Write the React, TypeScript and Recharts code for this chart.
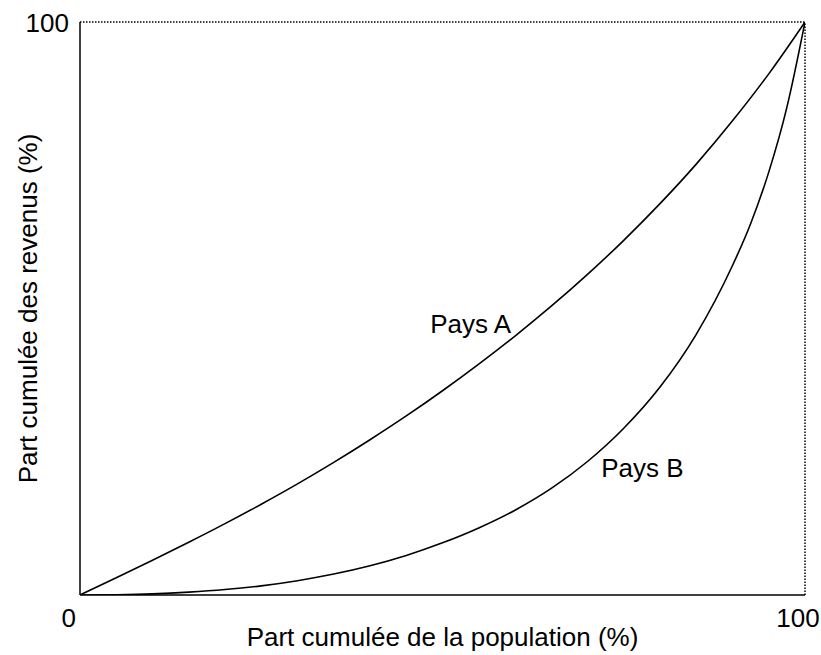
import { LineChart, Line, XAxis, YAxis, ReferenceLine, ReferenceDot, Label } from "recharts";

// Cumulative population share (%) -> cumulative income share (%)
const populationA = [0, 5, 10, 15, 20, 25, 30, 35, 40, 45, 50, 55, 60, 65, 70, 75, 80, 85, 90, 95, 100];
const incomeA = [0, 3, 6.05, 9.2, 12.45, 15.85, 19.4, 23.15, 27.1, 31.25, 35.65, 40.3, 45.2, 50.4, 55.95, 61.9, 68.3, 75.2, 82.75, 90.95, 100];

const populationB = [0, 5, 10, 15, 20, 25, 30, 35, 40, 45, 50, 55, 60, 65, 70, 75, 80, 85, 90, 92.5, 95, 97.5, 100];
const incomeB = [0, 0.05, 0.2, 0.5, 0.95, 1.6, 2.5, 3.65, 5.1, 6.9, 9.1, 11.7, 14.8, 18.6, 23.3, 29.1, 36.3, 45.5, 57.5, 64.8, 73.8, 85.1, 100];

const xTicks = [0, 100];
const yTicks = [100];

const seriesA = populationA.map((p, i) => ({ p, q: incomeA[i] }));
const seriesB = populationB.map((p, i) => ({ p, q: incomeB[i] }));

if (typeof document !== "undefined") {
  document.body.style.margin = "0";
}

const FONT = "'Liberation Sans', Arial, Helvetica, sans-serif";
const FS = 26;

const XTick = ({ x, y, payload }: any) => {
  const isZero = payload.value === 0;
  return (
    <text
      x={isZero ? x - 4 : x - 7}
      y={y + 24}
      textAnchor={isZero ? "end" : "middle"}
      fontFamily={FONT}
      fontSize={FS}
      fill="#000"
    >
      {payload.value}
    </text>
  );
};

const YTick = ({ x, y, payload }: any) => (
  <text x={x - 3} y={y + 10} textAnchor="end" fontFamily={FONT} fontSize={FS} fill="#000">
    {payload.value}
  </text>
);

const curveLabel = (text: string) => (props: any) => (
  <text x={props.cx} y={props.cy} fontFamily={FONT} fontSize={FS} fill="#000">
    {text}
  </text>
);

export default function App() {
  return (
    <div style={{ width: 821, height: 655, background: "#fff" }}>
      <LineChart width={821} height={655} margin={{ top: 22, right: 16, bottom: 30, left: 20 }}>
        <XAxis
          type="number"
          dataKey="p"
          domain={[0, 100]}
          ticks={xTicks}
          tickLine={false}
          axisLine={{ stroke: "#000", strokeWidth: 1.5 }}
          tick={<XTick />}
          height={30}
          allowDataOverflow
        >
          <Label
            content={({ viewBox }: any) => (
              <text
                x={viewBox.x + viewBox.width / 2}
                y={viewBox.y + 51}
                textAnchor="middle"
                fontFamily={FONT}
                fontSize={FS}
                fill="#000"
              >
                Part cumulée de la population (%)
              </text>
            )}
          />
        </XAxis>
        <YAxis
          type="number"
          domain={[0, 100]}
          ticks={yTicks}
          tickLine={false}
          axisLine={{ stroke: "#000", strokeWidth: 1.5 }}
          tick={<YTick />}
          width={60}
          allowDataOverflow
        >
          <Label
            content={({ viewBox }: any) => {
              const cx = 37;
              const cy = viewBox.y + viewBox.height / 2;
              return (
                <text
                  x={cx}
                  y={cy}
                  transform={`rotate(-90 ${cx} ${cy})`}
                  textAnchor="middle"
                  fontFamily={FONT}
                  fontSize={FS}
                  fill="#000"
                >
                  Part cumulée des revenus (%)
                </text>
              );
            }}
          />
        </YAxis>
        <ReferenceLine y={100} stroke="#000" strokeWidth={1.5} strokeDasharray="1.5 1.5" />
        <ReferenceLine x={100} stroke="#000" strokeWidth={1.5} strokeDasharray="1.5 1.5" />
        <Line
          data={seriesA}
          dataKey="q"
          type="monotone"
          stroke="#000"
          strokeWidth={1.6}
          dot={false}
          isAnimationActive={false}
        />
        <Line
          data={seriesB}
          dataKey="q"
          type="monotone"
          stroke="#000"
          strokeWidth={1.6}
          dot={false}
          isAnimationActive={false}
        />
        <ReferenceDot x={48.3} y={45.7} r={0} shape={curveLabel("Pays A")} />
        <ReferenceDot x={71.9} y={20.6} r={0} shape={curveLabel("Pays B")} />
      </LineChart>
    </div>
  );
}
